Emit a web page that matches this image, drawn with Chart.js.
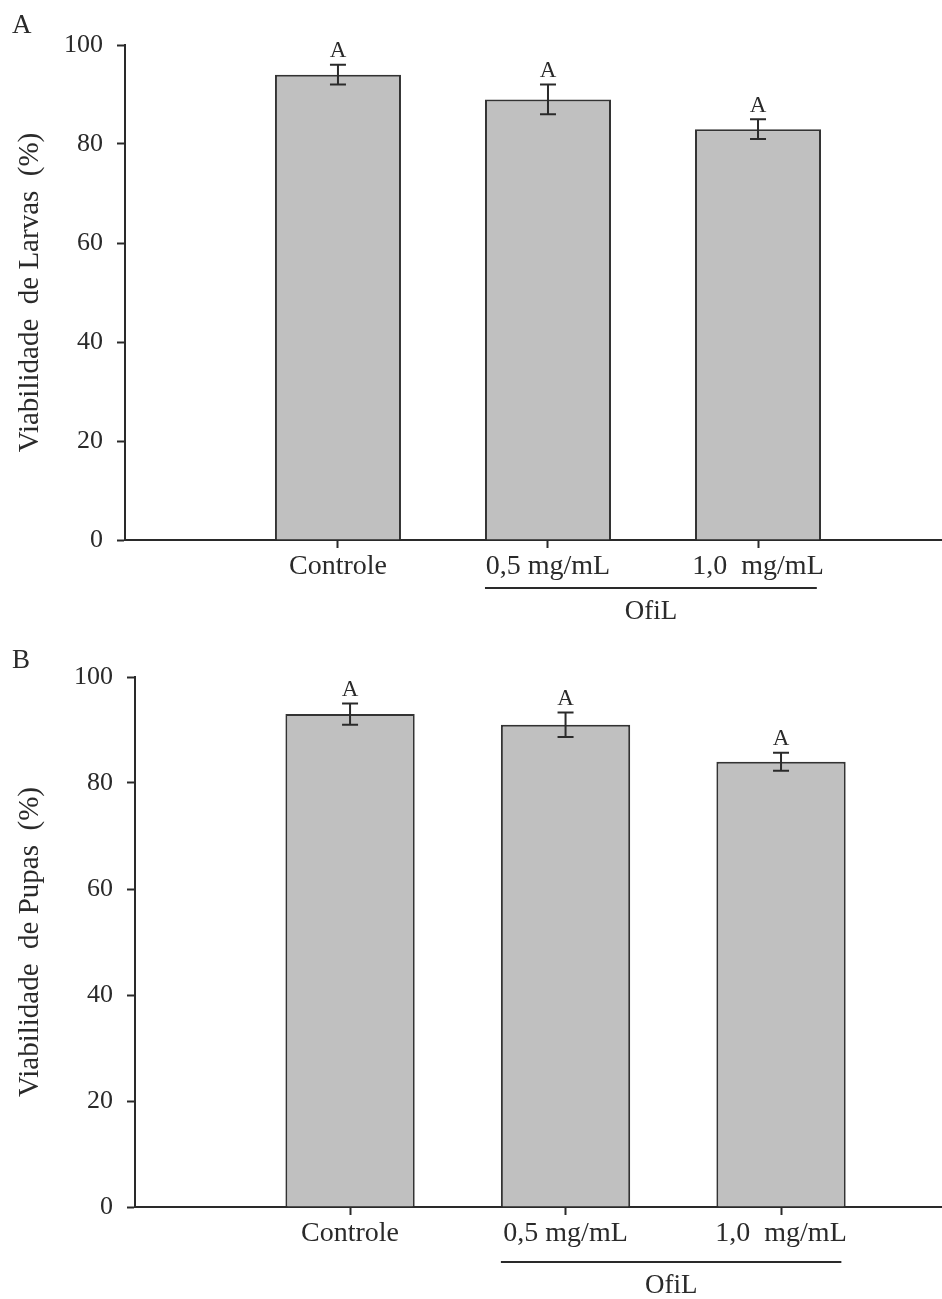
<!DOCTYPE html>
<html>
<head>
<meta charset="utf-8">
<script src="https://cdn.jsdelivr.net/npm/chart.js@4"></script>
<style>
  body { margin: 0; background: #fff; }
  .wrap { position: relative; width: 942px; height: 1299px; }
  canvas { position: absolute; left: 0; }
</style>
</head>
<body>
<div class="wrap">
  <canvas id="chartA" width="942" height="640" style="top:0"></canvas>
  <canvas id="chartB" width="942" height="659" style="top:640px"></canvas>
</div>
<script>
// Data
const categories = ['Controle', '0,5 mg/mL', '1,0  mg/mL'];
const larvasMeans = [94, 89, 83];
const larvasErr = [2, 3, 2];
const larvasLetters = ['A', 'A', 'A'];
const pupasMeans = [93, 91, 84];
const pupasErr = [2, 2.3, 1.7];
const pupasLetters = ['A', 'A', 'A'];
const yTicks = [0, 20, 40, 60, 80, 100];
const groupLabel = 'OfiL';
const groupRange = [1.7, 3.28];   // x values spanned by the OfiL line

const SERIF = '"Liberation Serif", "Times New Roman", serif';
const INK = '#2a2a2a';

// Error bars, letters, panel label and the OfiL bracket
const extrasPlugin = {
    id: 'extras',
    afterDatasetsDraw(chart, args, opts) {
        const {ctx, scales: {x, y}, chartArea} = chart;
        ctx.save();
        ctx.strokeStyle = INK;
        ctx.fillStyle = INK;
        ctx.lineWidth = 2;

        opts.means.forEach((m, i) => {
            const px = x.getPixelForValue(i + 1);
            const top = y.getPixelForValue(m + opts.errs[i]);
            const bot = y.getPixelForValue(m - opts.errs[i]);
            ctx.beginPath();
            ctx.moveTo(px, top); ctx.lineTo(px, bot);
            ctx.moveTo(px - 8, top); ctx.lineTo(px + 8, top);
            ctx.moveTo(px - 8, bot); ctx.lineTo(px + 8, bot);
            ctx.stroke();

            ctx.font = '23px ' + SERIF;
            ctx.textAlign = 'center';
            ctx.textBaseline = 'bottom';
            ctx.fillText(opts.letters[i], px, top - 2);
        });

        // panel label
        ctx.font = '27px ' + SERIF;
        ctx.textAlign = 'left';
        ctx.textBaseline = 'alphabetic';
        ctx.fillText(opts.panel, 12, opts.panelY);

        // OfiL bracket
        const lineY = chartArea.bottom + opts.groupOffset;
        ctx.beginPath();
        ctx.moveTo(x.getPixelForValue(groupRange[0]), lineY);
        ctx.lineTo(x.getPixelForValue(groupRange[1]), lineY);
        ctx.stroke();
        ctx.font = '27px ' + SERIF;
        ctx.textAlign = 'center';
        ctx.textBaseline = 'middle';
        ctx.fillText(groupLabel, x.getPixelForValue((groupRange[0] + groupRange[1]) / 2), lineY + 24);
        ctx.restore();
    }
};

function makeChart(el, cfg) {
    const axisGrid = {
        drawOnChartArea: false,
        drawTicks: true,
        offset: false,
        tickLength: 8,
        tickWidth: 2,
        tickColor: INK
    };
    return new Chart(el.getContext('2d'), {
        type: 'bar',
        data: {
            datasets: [{
                data: cfg.means.map((v, i) => ({x: i + 1, y: v})),
                backgroundColor: '#c0c0c0',
                borderColor: '#333',
                borderWidth: 2,
                categoryPercentage: 1,
                barPercentage: 0.6
            }]
        },
        options: {
            responsive: false,
            animation: false,
            layout: {padding: {top: cfg.padTop, right: 0, left: 0, bottom: 0}},
            plugins: {
                legend: {display: false},
                tooltip: {enabled: false},
                extras: {
                    means: cfg.means,
                    errs: cfg.errs,
                    letters: cfg.letters,
                    panel: cfg.panel,
                    panelY: cfg.panelY,
                    groupOffset: cfg.groupOffset
                }
            },
            scales: {
                x: {
                    type: 'linear',
                    offset: false,
                    min: cfg.xMin,
                    max: cfg.xMax,
                    grid: axisGrid,
                    border: {color: INK, width: 2},
                    ticks: {
                        font: {family: SERIF, size: 28},
                        color: INK,
                        padding: 2,
                        callback: v => categories[v - 1] ?? ''
                    },
                    afterBuildTicks: s => { s.ticks = categories.map((c, i) => ({value: i + 1})); },
                    afterFit: s => { s.height = cfg.xHeight; }
                },
                y: {
                    min: 0,
                    max: 100,
                    grid: axisGrid,
                    border: {color: INK, width: 2},
                    ticks: {
                        font: {family: SERIF, size: 26},
                        color: INK,
                        padding: 14
                    },
                    afterBuildTicks: s => { s.ticks = yTicks.map(v => ({value: v})); },
                    title: {
                        display: true,
                        text: cfg.yTitle,
                        font: {family: SERIF, size: 29},
                        color: INK,
                        padding: {top: 13}
                    },
                    afterFit: s => { s.width = cfg.yWidth; }
                }
            }
        },
        plugins: [extrasPlugin]
    });
}

// Panel A - larvas
makeChart(document.getElementById('chartA'), {
    means: larvasMeans, errs: larvasErr, letters: larvasLetters,
    yTitle: 'Viabilidade  de Larvas  (%)', panel: 'A', panelY: 33,
    padTop: 45, yWidth: 125, xHeight: 100, xMin: -0.014, xMax: 3.876, groupOffset: 48
});

// Panel B - pupas
makeChart(document.getElementById('chartB'), {
    means: pupasMeans, errs: pupasErr, letters: pupasLetters,
    yTitle: 'Viabilidade  de Pupas  (%)', panel: 'B', panelY: 28,
    padTop: 37, yWidth: 135, xHeight: 92, xMin: 0.002, xMax: 3.747, groupOffset: 55
});
</script>
</body>
</html>
